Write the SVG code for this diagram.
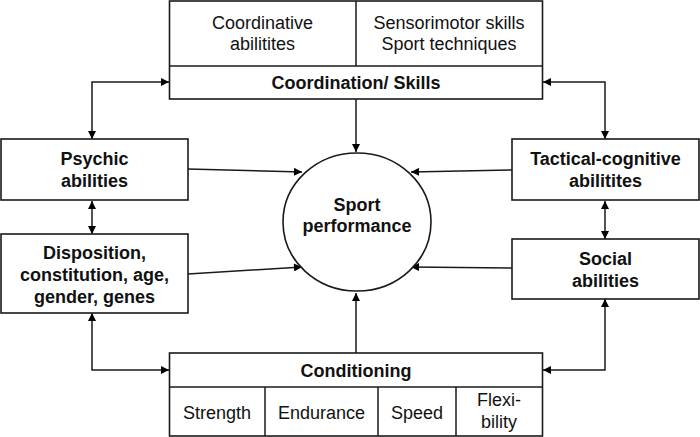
<svg xmlns="http://www.w3.org/2000/svg" width="700" height="437" viewBox="0 0 700 437">
<defs>
<marker id="ah" viewBox="0 0 10 10" refX="10" refY="5" markerWidth="9" markerHeight="8" markerUnits="userSpaceOnUse" orient="auto-start-reverse">
<path d="M0,0 L10,5 L0,10 z" fill="#000"/>
</marker>
<style>
.box{fill:#fff;stroke:#1a1a1a;stroke-width:1.6}
.ln{fill:none;stroke:#1a1a1a;stroke-width:1.5}
text{font-family:"Liberation Sans",Arial,sans-serif;font-size:18px;fill:#111;text-anchor:middle}
.b{font-weight:bold}
</style>
</defs>
<rect width="700" height="437" fill="#fff"/>
<g id="connectors">
<line class="ln" x1="356" y1="99" x2="356" y2="152" marker-end="url(#ah)"/>
<line class="ln" x1="356" y1="353" x2="356" y2="293" marker-end="url(#ah)"/>
<line class="ln" x1="188" y1="169" x2="302" y2="172" marker-end="url(#ah)"/>
<line class="ln" x1="188" y1="274" x2="302" y2="267" marker-end="url(#ah)"/>
<line class="ln" x1="512" y1="170" x2="411" y2="172" marker-end="url(#ah)"/>
<line class="ln" x1="512" y1="268" x2="411" y2="267" marker-end="url(#ah)"/>
<polyline class="ln" points="92,139 92,82 169,82" marker-start="url(#ah)" marker-end="url(#ah)"/>
<polyline class="ln" points="605,139 605,82 543,82" marker-start="url(#ah)" marker-end="url(#ah)"/>
<line class="ln" x1="92" y1="201" x2="92" y2="234" marker-start="url(#ah)" marker-end="url(#ah)"/>
<line class="ln" x1="605" y1="201" x2="605" y2="239" marker-start="url(#ah)" marker-end="url(#ah)"/>
<polyline class="ln" points="92,313 92,370 169,370" marker-start="url(#ah)" marker-end="url(#ah)"/>
<polyline class="ln" points="605,299 605,370 543,370" marker-start="url(#ah)" marker-end="url(#ah)"/>
</g>
<g id="coordination">
<rect class="box" x="169.5" y="1" width="373" height="98"/>
<line class="ln" x1="169.5" y1="66" x2="542.5" y2="66"/>
<line class="ln" x1="356" y1="1" x2="356" y2="66"/>
<text x="262.5" y="29">Coordinative</text>
<text x="262.5" y="50">abilitites</text>
<text x="449" y="29">Sensorimotor skills</text>
<text x="449" y="50">Sport techniques</text>
<text class="b" x="356" y="89">Coordination/ Skills</text>
</g>
<g id="psychic">
<rect class="box" x="1" y="139" width="187" height="61"/>
<text class="b" x="94.5" y="165">Psychic</text>
<text class="b" x="94.5" y="187">abilities</text>
</g>
<g id="disposition">
<rect class="box" x="1" y="234" width="187" height="79"/>
<text class="b" x="94.5" y="259">Disposition,</text>
<text class="b" x="94.5" y="281">constitution, age,</text>
<text class="b" x="94.5" y="303">gender, genes</text>
</g>
<g id="tactical">
<rect class="box" x="512" y="139" width="187" height="61"/>
<text class="b" x="605.5" y="165">Tactical-cognitive</text>
<text class="b" x="605.5" y="187">abilitites</text>
</g>
<g id="social">
<rect class="box" x="512" y="239" width="187" height="60"/>
<text class="b" x="605.5" y="265">Social</text>
<text class="b" x="605.5" y="287">abilities</text>
</g>
<g id="performance">
<ellipse class="box" cx="357" cy="222" rx="74" ry="69"/>
<text class="b" x="357" y="211">Sport</text>
<text class="b" x="357" y="232">performance</text>
</g>
<g id="conditioning">
<rect class="box" x="169.5" y="353" width="373" height="83"/>
<line class="ln" x1="169.5" y1="387" x2="542.5" y2="387"/>
<line class="ln" x1="265" y1="387" x2="265" y2="436"/>
<line class="ln" x1="378" y1="387" x2="378" y2="436"/>
<line class="ln" x1="456" y1="387" x2="456" y2="436"/>
<text class="b" x="356" y="377">Conditioning</text>
<text x="217" y="419">Strength</text>
<text x="321.5" y="419">Endurance</text>
<text x="417" y="419">Speed</text>
<text x="499" y="406">Flexi-</text>
<text x="499" y="428">bility</text>
</g>
</svg>
